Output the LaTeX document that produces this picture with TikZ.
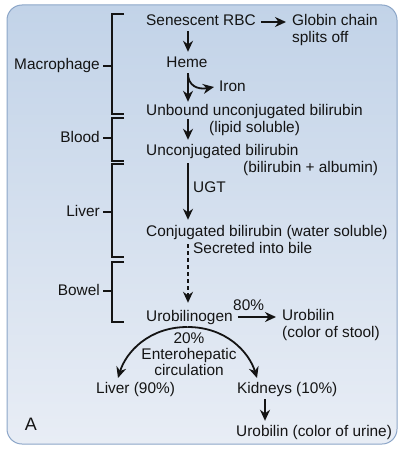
\documentclass[tikz,border=0pt]{standalone}
\usepackage{fontspec}
\setmainfont{Liberation Sans}
\usepackage{tikz}
\usetikzlibrary{arrows.meta,positioning,calc}
\definecolor{panelTop}{RGB}{194,211,232}
\definecolor{panelBot}{RGB}{232,237,245}
\definecolor{panelEdge}{RGB}{140,166,200}
\definecolor{inkcolor}{RGB}{20,20,20}

\begin{document}
\begin{tikzpicture}[
    x=1pt, y=-1pt,
    lbl/.style={inner sep=0pt, text height=11pt, text depth=3pt, font=\fontsize{15.4}{17}\selectfont, text=inkcolor},
    flow/.style={-{Stealth[length=11pt, width=10pt]}, line width=1.8pt, draw=inkcolor},
    brk/.style={line width=1.1pt, draw=inkcolor}
]
    \useasboundingbox (0,0) rectangle (402,452);
    \draw[panelEdge, line width=1pt, rounded corners=15pt, top color=panelTop, bottom color=panelBot]
        (7,5) rectangle (397,444);

    % main column
    \coordinate (col) at (188,0);
    \node[lbl, anchor=west] (rbc) at (146,22) {Senescent RBC};
    \node[lbl, anchor=west, align=left, text height=, text depth=] (globin) at (292,30) {Globin chain\\splits off};
    \node[lbl] (heme) at (187,63) {Heme};
    \node[lbl, anchor=west] (iron) at (219,87) {Iron};
    \node[lbl, anchor=west] (unbound) at (146,111) {Unbound unconjugated bilirubin};
    \node[lbl, anchor=west] (lipid) at (209,128) {(lipid soluble)};
    \node[lbl, anchor=west] (unconj) at (146,151) {Unconjugated bilirubin};
    \node[lbl, anchor=west] (albumin) at (243,168) {(bilirubin + albumin)};
    \node[lbl, anchor=west] (ugt) at (193,188) {UGT};
    \node[lbl, anchor=west] (conj) at (146,232) {Conjugated bilirubin (water soluble)};
    \node[lbl, anchor=west] (bile) at (193,249) {Secreted into bile};
    \node[lbl, anchor=west] (urob) at (146,317) {Urobilinogen};
    \node[lbl, anchor=west] (eighty) at (233,306) {80\%};
    \node[lbl, anchor=west, align=left, text height=, text depth=] (stool) at (282,325) {Urobilin\\(color of stool)};
    \node[lbl, align=center, text height=, text depth=, font=\fontsize{15.4}{16}\selectfont] (entero) at (189,354) {20\%\\Enterohepatic\\circulation};
    \node[lbl, anchor=west] (liver) at (96,389) {Liver (90\%)};
    \node[lbl, anchor=west] (kidney) at (237,389) {Kidneys (10\%)};
    \node[lbl, anchor=west] (urine) at (236,432) {Urobilin (color of urine)};
    \node[lbl, font=\fontsize{18}{20}\selectfont] (panel) at (31,426) {A};

    \draw[flow, shorten <=5pt, shorten >=6pt] (rbc.east) -- (rbc.east -| globin.west);
    \draw[flow, shorten <=2pt, shorten >=4pt] (rbc.south -| col) -- (heme.north -| col);
    \draw[flow, shorten <=3pt, shorten >=2pt] (heme.south -| col) -- (unbound.north -| col);
    \coordinate (fork) at (188,74);
    \draw[flow] (fork) .. controls (188,85) and (197,90) .. ([xshift=-5pt]iron.west);
    \draw[flow, shorten <=1pt, shorten >=4pt] (unbound.south -| col) -- (unconj.north -| col);
    \draw[flow, shorten <=5pt, shorten >=5pt] (unconj.south -| col) -- (conj.north -| col);
    \draw[flow, dashed, dash pattern=on 4pt off 3pt, shorten <=5pt, shorten >=7pt] (conj.south -| col) -- (urob.north -| col);
    \draw[flow, shorten <=5pt, shorten >=6pt] (urob.east) -- (urob.east -| stool.west);

    % enterohepatic split
    \coordinate (arcTop) at (187.5,327);
    \coordinate (toLiver) at (118,378);
    \coordinate (toKidney) at (257,378);
    \draw[flow] (arcTop) .. controls (149,327) and (126,352) .. (toLiver);
    \draw[flow] (arcTop) .. controls (226,327) and (249,352) .. (toKidney);
    \draw[flow, shorten <=3pt, shorten >=4pt] (kidney.south -| 265,0) -- (urine.north -| 265,0);

    % compartments
    \node[lbl, anchor=east] (mac) at (100,66) {Macrophage};
    \node[lbl, anchor=east] (blood) at (100,138) {Blood};
    \node[lbl, anchor=east] (liv) at (100,212) {Liver};
    \node[lbl, anchor=east] (bowel) at (100,291) {Bowel};
    \draw[brk] (124,14) -- (112,14) -- (112,114) -- (124,114);
    \draw[brk] (124,118) -- (112,118) -- (112,161) -- (124,161);
    \draw[brk] (124,164) -- (112,164) -- (112,257) -- (124,257);
    \draw[brk] (124,262) -- (112,262) -- (112,322) -- (124,322);
    \draw[brk, shorten <=3pt] (mac.east) -- (112,66);
    \draw[brk, shorten <=3pt] (blood.east) -- (112,138);
    \draw[brk, shorten <=3pt] (liv.east) -- (112,212);
    \draw[brk, shorten <=3pt] (bowel.east) -- (112,291);
\end{tikzpicture}
\end{document}
